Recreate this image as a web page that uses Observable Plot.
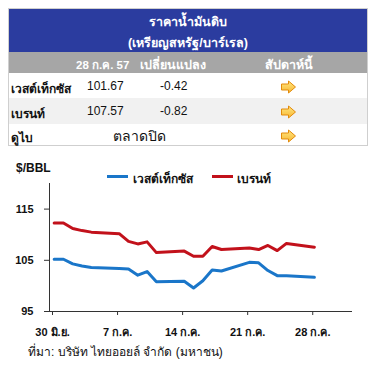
<!DOCTYPE html>
<html><head><meta charset="utf-8">
<script src="https://cdn.jsdelivr.net/npm/d3@7"></script>
<script src="https://cdn.jsdelivr.net/npm/@observablehq/plot@0.6"></script>
<style>
body{margin:0;background:#fff;font-family:"Liberation Sans",Arial,"Noto Sans",sans-serif;}
#wrap{position:relative;width:381px;height:368px;overflow:hidden;}
.abs{position:absolute;white-space:nowrap;}
.tbl{position:absolute;left:8px;top:8px;width:360px;height:138px;border:1px solid #cfcfcf;box-sizing:border-box;}
.hdr{position:absolute;left:8px;top:8px;width:360px;height:44px;background:#2B3C9F;}
.sub{position:absolute;left:8px;top:52px;width:360px;height:21px;background:#A6A6A6;}
.r2{position:absolute;left:9px;top:98px;width:358px;height:26px;background:#F1F1F1;}
.w{color:#fff;font-weight:bold;font-size:12.5px;}
.w2{color:#fff;font-weight:bold;font-size:11.5px;}
.lab{font-weight:bold;font-size:12px;color:#111;}
.num{font-size:12px;color:#111;}
.big{font-size:14px;color:#111;}
#chart{position:absolute;left:0;top:150px;}
</style></head>
<body><div id="wrap">
<div class="hdr"></div><div class="sub"></div><div class="r2"></div><div class="tbl"></div>
<div id="texts"></div>
<div id="chart"></div>
</div>
<script>
// ---- data ----
const tableTitle = "ราคาน้ำมันดิบ";
const tableSubtitle = "(เหรียญสหรัฐ/บาร์เรล)";
const tableHeads = ["28 ก.ค. 57", "เปลี่ยนแปลง", "สัปดาห์นี้"];
const tableRows = ["เวสต์เท็กซัส", "เบรนท์", "ดูไบ"];
const tablePrices = ["101.67", "107.57", "ตลาดปิด"];
const tableChanges = ["-0.42", "-0.82", ""];

const dates = ["2014-06-30","2014-07-01","2014-07-02","2014-07-03","2014-07-04",
  "2014-07-07","2014-07-08","2014-07-09","2014-07-10","2014-07-11",
  "2014-07-14","2014-07-15","2014-07-16","2014-07-17","2014-07-18",
  "2014-07-21","2014-07-22","2014-07-23","2014-07-24","2014-07-25","2014-07-28"];
const wti   = [105.2,105.2,104.3,103.9,103.6, 103.4,103.3,102.1,102.8,100.8,
  100.9,99.6,101.0,103.1,102.9, 104.6,104.5,103.0,102.0,102.0,101.67];
const brent = [112.3,112.3,111.2,110.8,110.5, 110.2,108.7,108.2,108.6,106.5,
  106.8,105.8,105.8,107.7,107.1, 107.4,107.1,107.9,106.9,108.3,107.57];
const seriesNames = ["เวสต์เท็กซัส", "เบรนท์"];
const seriesColors = ["#1A76C9", "#C2111B"];
const tickDates = ["2014-06-30","2014-07-07","2014-07-14","2014-07-21","2014-07-28"];
const tickLabels = ["30 มิ.ย.", "7 ก.ค.", "14 ก.ค.", "21 ก.ค.", "28 ก.ค."];
const yTicks = [95, 105, 115];
const yUnit = "$/BBL";
const source = "ที่มา: บริษัท ไทยออยล์ จำกัด (มหาชน)";

// ---- table texts ----
const T = document.getElementById("texts");
function put(txt, cls, x, y, anchor) {
  const s = document.createElement("div");
  s.className = "abs " + cls; s.textContent = txt;
  s.style.top = y + "px";
  s.style.left = x + "px";
  if (anchor === "c") s.style.transform = "translateX(-50%)";
  T.appendChild(s);
}
function arrow(x, y) {
  const ns = "http://www.w3.org/2000/svg";
  const s = document.createElementNS(ns, "svg");
  s.setAttribute("width", 18); s.setAttribute("height", 14);
  s.style.position = "absolute"; s.style.left = x + "px"; s.style.top = y + "px";
  s.innerHTML = '<defs><linearGradient id="g" x1="0" y1="0" x2="0" y2="1"><stop offset="0" stop-color="#FFE680"/><stop offset="1" stop-color="#F7B733"/></linearGradient></defs>' +
    '<path d="M1.5,4 H8.5 V1 L15.5,7 L8.5,13 V10 H1.5 Z" fill="url(#g)" stroke="#E38B0B" stroke-width="1"/>';
  T.appendChild(s);
}
put(tableTitle, "w", 188, 12, "c");
put(tableSubtitle, "w", 188, 33, "c");
put(tableHeads[0], "w2", 76, 56);
put(tableHeads[1], "w", 140, 55);
put(tableHeads[2], "w", 289, 55, "c");
const rowY = [79, 104, 128];
tableRows.forEach((r, i) => {
  put(r, "lab", 11, rowY[i]);
  if (tableChanges[i]) {
    put(tablePrices[i], "num", 87, rowY[i]);
    put(tableChanges[i], "num", 160, rowY[i]);
  } else {
    put(tablePrices[i], "big", 113, rowY[i] - 3);
  }
  arrow(280, rowY[i] + 1);
});

// legend and labels
put(yUnit, "lab", 16, 161);
const lg = [[107, 133], [212, 237]];
seriesNames.forEach((n, i) => {
  const l = document.createElement("div");
  l.className = "abs";
  l.style.left = lg[i][0] + "px"; l.style.top = "175px";
  l.style.width = "21px"; l.style.height = "3px"; l.style.background = seriesColors[i];
  T.appendChild(l);
  put(n, "lab", lg[i][1], 169);
});
put(source, "num", 28, 342);

// ---- chart ----
const parse = d3.utcParse("%Y-%m-%d");
const half = 12 * 3600 * 1000;
const rows = [];
dates.forEach((d, i) => {
  const t = new Date(parse(d).getTime() + half);
  rows.push({date: t, value: wti[i], series: seriesNames[0]});
  rows.push({date: t, value: brent[i], series: seriesNames[1]});
});
const x0 = parse(dates[0]);
const x1 = new Date(x0.getTime() + 32.6 * 24 * 3600 * 1000);
const tickD = tickDates.map(parse);

const chart = Plot.plot({
  width: 381, height: 200,
  marginLeft: 49, marginRight: 29, marginTop: 33, marginBottom: 39,
  style: {fontFamily: '"Liberation Sans",Arial,sans-serif', fontSize: "11px", color: "#111", background: "transparent"},
  x: {type: "utc", domain: [x0, x1]},
  y: {domain: [95, 120]},
  color: {domain: seriesNames, range: seriesColors},
  marks: [
    Plot.axisY({ticks: yTicks, tickSize: 5, tickPadding: 11, fontWeight: "bold", fontSize: 11, label: null, stroke: "#333"}),
    Plot.axisX({ticks: tickD, tickSize: 4, tickPadding: 13, fontWeight: "bold", fontSize: 11, label: null, stroke: "#333", dx: 3,
      tickFormat: d => tickLabels[tickD.findIndex(t => +t === +d)]}),
    Plot.ruleX([x0], {y1: 95, y2: 120, stroke: "#333"}),
    Plot.ruleY([95], {stroke: "#333"}),
    Plot.line(rows, {x: "date", y: "value", z: "series", stroke: "series", strokeWidth: 3, curve: "linear"})
  ]
});
document.getElementById("chart").appendChild(chart);
</script>
</body></html>
